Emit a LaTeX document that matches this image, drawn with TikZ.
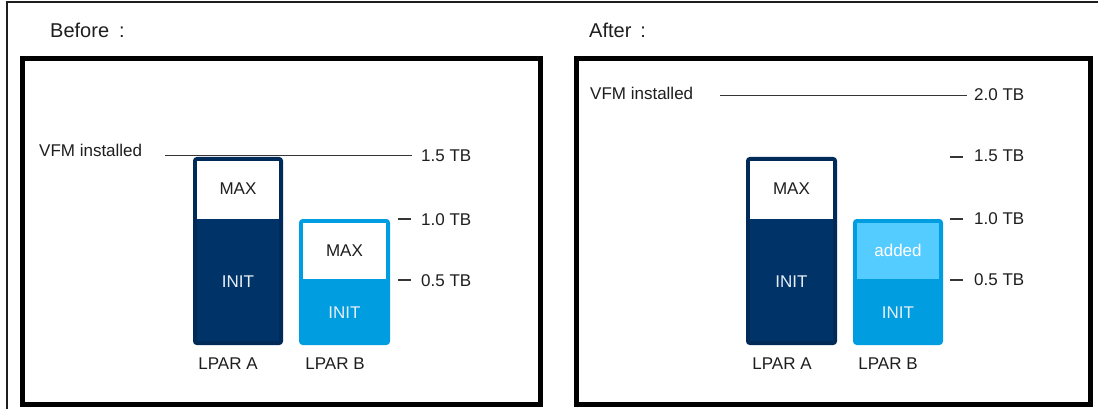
\documentclass[tikz,border=0pt]{standalone}
\usepackage{fontspec}
\setmainfont{Liberation Sans}
\definecolor{navy}{RGB}{0,52,104}
\definecolor{navyedge}{RGB}{0,42,88}
\definecolor{cyanbar}{RGB}{0,158,224}
\definecolor{cyanlight}{RGB}{85,204,255}
\definecolor{inktext}{RGB}{30,30,30}
\definecolor{softwhite}{RGB}{232,238,245}
\tikzset{
  panel/.style={draw=black, line width=5pt, fill=white},
  frameline/.style={draw=inktext, line width=1.3pt},
  levelline/.style={draw=inktext!90, line width=1.4pt},
  heading/.style={inner sep=0pt, anchor=base west, text=inktext, font=\fontsize{20}{24}\selectfont},
  lbl/.style={inner sep=0pt, text=inktext, font=\fontsize{17}{20}\selectfont},
  barA/.style={draw=navyedge, fill=navy, line width=4pt, rounded corners=2pt, inner sep=0pt},
  barB/.style={draw=cyanbar, fill=cyanbar, line width=4pt, rounded corners=2pt, inner sep=0pt},
  slot/.style={inner sep=0pt, minimum width=82pt, minimum height=58pt},
  maxslot/.style={slot, fill=white},
  addslot/.style={slot, fill=cyanlight},
  intext/.style={inner sep=0pt, anchor=base, text=softwhite, font=\fontsize{17}{20}\selectfont},
}
\begin{document}
\begin{tikzpicture}[x=1pt, y=-1pt]
\useasboundingbox (0,0) rectangle (1098,409);
\fill[white] (0,0) rectangle (1098,409);

% page frame edges
\coordinate (frameTL) at (7,2);
\coordinate (frameTR) at (1098,2);
\coordinate (frameBL) at (7,409);
\draw[frameline] (frameBL) -- (frameTL) -- (frameTR);

% ---------- Before ----------
\node[heading] (hBefore) at (50,38) {Before\hspace{10pt}:};
\draw[panel] (22.5,59) rectangle (540,404);

\node[barA, minimum width=86pt, minimum height=184pt] (lA) at (238,251) {};
\node[maxslot, minimum width=82pt] (lAmax) at (238,190) {};
\node[lbl, anchor=base] (lAmaxtxt) at (238,194) {MAX};
\node[intext] (lAinit) at (238,287) {INIT};

\node[barB, minimum width=87pt, minimum height=122pt] (lB) at (344.5,282) {};
\node[maxslot, minimum width=83pt, minimum height=56pt] (lBmax) at (344.5,251) {};
\node[lbl, anchor=base] (lBmaxtxt) at (344.5,256) {MAX};
\node[intext] (lBinit) at (344.5,318) {INIT};

\node[lbl, anchor=base] (lAname) at (228,369) {LPAR A};
\node[lbl, anchor=base] (lBname) at (335,369) {LPAR B};

\node[lbl, anchor=base west] (lVFM) at (39,157) {VFM installed};
\node[lbl, anchor=base west] (l15) at (421,162) {1.5 TB};
\node[lbl, anchor=base west] (l10) at (421,225) {1.0 TB};
\node[lbl, anchor=base west] (l05) at (421,286) {0.5 TB};
\coordinate (lVFMstart) at (165,155.5);
\coordinate (lVFMend) at (412,155.5);
\coordinate (l10a) at (398,219);
\coordinate (l10b) at (411,219);
\coordinate (l05a) at (398,280);
\coordinate (l05b) at (411,280);
\draw[levelline] (lVFMstart) -- (lVFMend);
\draw[levelline] (l10a) -- (l10b);
\draw[levelline] (l05a) -- (l05b);

% ---------- After ----------
\node[heading] (hAfter) at (589,38) {After\hspace{9pt}:};
\draw[panel] (576,59) rectangle (1090,404);

\node[barA, minimum width=87pt, minimum height=184pt] (rA) at (791.5,251) {};
\node[maxslot, minimum width=83pt] (rAmax) at (791.5,190) {};
\node[lbl, anchor=base] (rAmaxtxt) at (791.5,194) {MAX};
\node[intext] (rAinit) at (791.5,287) {INIT};

\node[barB, minimum width=86pt, minimum height=122pt] (rB) at (898,282) {};
\node[addslot, minimum width=82pt, minimum height=56pt] (rBadd) at (898,251) {};
\node[intext, text=white] (rBaddtxt) at (898,256) {added};
\node[intext] (rBinit) at (898,318) {INIT};

\node[lbl, anchor=base] (rAname) at (782,369) {LPAR A};
\node[lbl, anchor=base] (rBname) at (888,369) {LPAR B};

\node[lbl, anchor=base west] (rVFM) at (590,100) {VFM installed};
\node[lbl, anchor=base west] (r20) at (974,101) {2.0 TB};
\node[lbl, anchor=base west] (r15) at (974,162) {1.5 TB};
\node[lbl, anchor=base west] (r10) at (974,224) {1.0 TB};
\node[lbl, anchor=base west] (r05) at (974,285) {0.5 TB};
\coordinate (rVFMstart) at (720,95.5);
\coordinate (rVFMend) at (967,95.5);
\coordinate (r15a) at (950,157);
\coordinate (r15b) at (963,157);
\coordinate (r10a) at (950,219);
\coordinate (r10b) at (963,219);
\coordinate (r05a) at (950,280);
\coordinate (r05b) at (963,280);
\draw[levelline] (rVFMstart) -- (rVFMend);
\draw[levelline] (r15a) -- (r15b);
\draw[levelline] (r10a) -- (r10b);
\draw[levelline] (r05a) -- (r05b);
\end{tikzpicture}
\end{document}
